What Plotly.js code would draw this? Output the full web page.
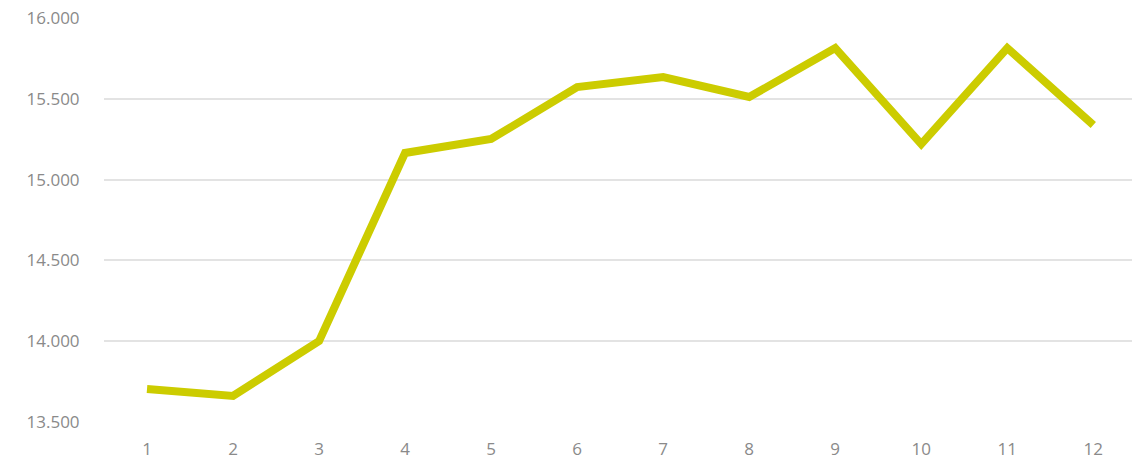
<!DOCTYPE html>
<html><head><meta charset="utf-8">
<script src="https://cdn.plot.ly/plotly-3.0.1.min.js"></script>
<style>html,body{margin:0;padding:0;background:#fff;}#chart{width:1132px;height:462px;}</style>
</head><body><div id="chart"></div>
<script>
const months = [1,2,3,4,5,6,7,8,9,10,11,12];
const values = [13704,13661,14001,15165,15251,15573,15635,15511,15814,15220,15814,15338];
const yTicks = [13500,14000,14500,15000,15500,16000];

Plotly.newPlot('chart', [{
  x: months, y: values, type: 'scatter', mode: 'lines',
  line: {color: '#cccc00', width: 8, shape: 'linear'},
  hoverinfo: 'skip'
}], {
  width: 1132, height: 462,
  margin: {l: 104, r: 0, t: 18, b: 40},
  paper_bgcolor: '#fff', plot_bgcolor: '#fff',
  separators: ',.',
  showlegend: false,
  font: {family: 'Open Sans, sans-serif', size: 17, color: '#8a8a8a'},
  xaxis: {
    range: [0.5, 12.45], tickvals: months, ticktext: months.map(String),
    showgrid: false, zeroline: false, showline: false,
    ticks: 'outside', ticklen: 12, tickcolor: 'rgba(0,0,0,0)'
  },
  yaxis: {
    range: [13500, 16000], tickvals: yTicks, tickformat: ',d',
    showgrid: true, gridcolor: '#e3e3e3', gridwidth: 2,
    zeroline: false, showline: false,
    ticks: 'outside', ticklen: 20, tickcolor: 'rgba(0,0,0,0)'
  }
}, {staticPlot: true});
</script></body></html>
